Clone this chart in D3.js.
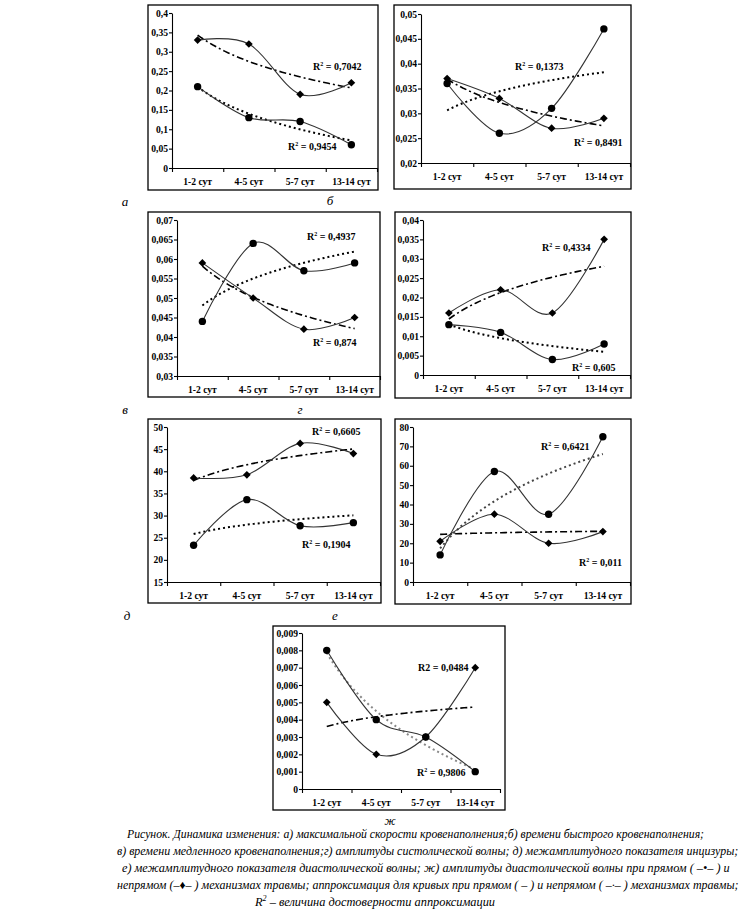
<!DOCTYPE html>
<html><head><meta charset="utf-8">
<script src="https://cdn.jsdelivr.net/npm/d3@7"></script>
<style>body{margin:0;background:#fff}</style>
</head><body>
<svg id="c" width="746" height="912" xmlns="http://www.w3.org/2000/svg"></svg>
<script>
// ---------------- DATA ----------------
const categories = ["1-2 сут", "4-5 сут", "5-7 сут", "13-14 сут"];

// а) максимальная скорость кровенаполнения
const directA   = [0.21, 0.13, 0.12, 0.06];
const indirectA = [0.33, 0.32, 0.19, 0.22];
const ticksA    = [0, 0.05, 0.1, 0.15, 0.2, 0.25, 0.3, 0.35, 0.4];
const r2A       = ["0,9454", "0,7042"];

// б) время быстрого кровенаполнения
const directB   = [0.036, 0.026, 0.031, 0.047];
const indirectB = [0.037, 0.033, 0.027, 0.029];
const ticksB    = [0.02, 0.025, 0.03, 0.035, 0.04, 0.045, 0.05];
const r2B       = ["0,1373", "0,8491"];

// в) время медленного кровенаполнения
const directV   = [0.044, 0.064, 0.057, 0.059];
const indirectV = [0.059, 0.050, 0.042, 0.045];
const ticksV    = [0.03, 0.035, 0.04, 0.045, 0.05, 0.055, 0.06, 0.065, 0.07];
const r2V       = ["0,4937", "0,874"];

// г) амплитуда систолической волны
const directG   = [0.013, 0.011, 0.004, 0.008];
const indirectG = [0.016, 0.022, 0.016, 0.035];
const ticksG    = [0, 0.005, 0.01, 0.015, 0.02, 0.025, 0.03, 0.035, 0.04];
const r2G       = ["0,605", "0,4334"];

// д) межамплитудный показатель инцизуры
const directD   = [23.3, 33.6, 27.7, 28.4];
const indirectD = [38.5, 39.2, 46.3, 44.0];
const ticksD    = [15, 20, 25, 30, 35, 40, 45, 50];
const r2D       = ["0,1904", "0,6605"];

// е) межамплитудный показатель диастолической волны
const directE   = [14, 57, 35, 75];
const indirectE = [21, 35, 20, 26];
const ticksE    = [0, 10, 20, 30, 40, 50, 60, 70, 80];
const r2E       = ["0,6421", "0,011"];

// ж) амплитуда диастолической волны
const directZh   = [0.008, 0.004, 0.003, 0.001];
const indirectZh = [0.005, 0.002, 0.003, 0.007];
const ticksZh    = [0, 0.001, 0.002, 0.003, 0.004, 0.005, 0.006, 0.007, 0.008, 0.009];
const r2Zh       = ["0,9806", "0,0484"];

const panelLetters = ["а", "б", "в", "г", "д", "е", "ж"];

const captionLines = [
  "Рисунок. Динамика изменения: а) максимальной скорости кровенаполнения;б) времени быстрого кровенаполнения;",
  "в) времени медленного кровенаполнения;г) амплитуды систолической волны; д) межамплитудного показателя инцизуры;",
  "е) межамплитудного показателя диастолической волны; ж) амплитуды диастолической волны  при прямом ( –•– ) и",
  "непрямом (–♦– ) механизмах травмы; аппроксимация для кривых при прямом ( – ) и непрямом ( –·– ) механизмах травмы;",
  "R² – величина достоверности аппроксимации"
];

// ---------------- DRAWING ----------------
const svg = d3.select("#c");
const FONT = "'Liberation Serif','Times New Roman',serif";
const fmt = d => String(d).replace(".", ",");

// logarithmic least-squares trend y = a + b ln(x), x = 1..n
function logFit(vals) {
  const xs = vals.map((v, i) => Math.log(i + 1));
  const mx = d3.mean(xs), my = d3.mean(vals);
  const b = d3.sum(xs, (x, i) => (x - mx) * (vals[i] - my)) / d3.sum(xs, x => (x - mx) * (x - mx));
  return { a: my - b * mx, b };
}

function panel(p) {
  const g = svg.append("g");
  g.append("rect").attr("x", p.frame[0]).attr("y", p.frame[1])
    .attr("width", p.frame[2] - p.frame[0]).attr("height", p.frame[3] - p.frame[1])
    .attr("fill", "none").attr("stroke", "#000").attr("stroke-width", 1.3);

  const x = d3.scaleBand().domain(categories).range([p.ax, p.ar]);
  const y = d3.scaleLinear().domain([p.ticks[0], p.ticks[p.ticks.length - 1]]).range([p.yb, p.yt]);
  const cx = c => x(c) + x.bandwidth() / 2;

  g.append("g").attr("transform", `translate(${p.ax},0)`)
    .call(d3.axisLeft(y).tickValues(p.ticks).tickSize(3).tickSizeOuter(0).tickPadding(1).tickFormat(fmt));
  g.append("g").attr("transform", `translate(0,${p.yb})`)
    .call(d3.axisBottom(x).tickSize(0).tickPadding(10).tickSizeOuter(0));
  const xb = d3.scaleLinear().domain([0, categories.length]).range(x.range());
  g.append("g").attr("transform", `translate(0,${p.yb})`)
    .call(d3.axisBottom(xb).tickValues(d3.range(categories.length + 1)).tickSize(4).tickFormat(""))
    .select(".domain").remove();
  g.selectAll(".domain, .tick line").attr("stroke", "#000").attr("stroke-width", 1.1);
  g.selectAll(".tick text").attr("font-family", FONT).attr("font-weight", "bold")
    .attr("font-size", "9.6px").attr("fill", "#000");

  const xt = d3.scaleLinear().domain([1, categories.length]).range([cx(categories[0]), cx(categories[categories.length - 1])]);
  const samples = d3.range(0, 41).map(i => 1 + i * (categories.length - 1) / 40);
  function trend(vals, dash, color, width) {
    const f = logFit(vals);
    g.append("path")
      .attr("d", d3.line().x(t => xt(t)).y(t => y(f.a + f.b * Math.log(t)))(samples))
      .attr("fill", "none").attr("stroke", color).attr("stroke-width", width)
      .attr("stroke-dasharray", dash);
  }
  trend(p.direct, "2,3", p.dColor || "#000", 2);
  trend(p.indirect, "7,3,2,3", "#000", 1.6);

  const line = d3.line().x((d, i) => cx(categories[i])).y(d => y(d)).curve(d3.curveCatmullRom.alpha(0));
  [p.direct, p.indirect].forEach(s => g.append("path").attr("d", line(s))
    .attr("fill", "none").attr("stroke", "#333").attr("stroke-width", 1.1));

  g.selectAll(".dm").data(p.indirect).enter().append("path")
    .attr("d", d3.symbol(d3.symbolSquare, 30)())
    .attr("transform", (d, i) => `translate(${cx(categories[i])},${y(d)}) rotate(45)`)
    .attr("fill", "#000");
  g.selectAll(".cm").data(p.direct).enter().append("circle")
    .attr("cx", (d, i) => cx(categories[i])).attr("cy", d => y(d)).attr("r", 3.7)
    .attr("fill", "#000");

  p.labels.forEach(l => {
    const t = g.append("text").attr("x", l.x).attr("y", l.y)
      .attr("font-family", FONT).attr("font-weight", "bold").attr("font-size", "10px");
    if (l.sup) {
      t.append("tspan").text("R");
      t.append("tspan").attr("font-size", "6px").attr("dy", -4).text("2");
      t.append("tspan").attr("dy", 4).text(" = " + l.v);
    } else {
      t.text("R2 = " + l.v);
    }
  });
}

panel({ frame: [148, 5, 378, 190], ax: 172, ar: 377, yt: 13, yb: 168, ticks: ticksA,
  direct: directA, indirect: indirectA,
  labels: [{ x: 288, y: 150, v: r2A[0], sup: true }, { x: 313, y: 70, v: r2A[1], sup: true }] });
panel({ frame: [394, 5, 631, 189], ax: 421, ar: 630, yt: 14, yb: 163, ticks: ticksB,
  direct: directB, indirect: indirectB,
  labels: [{ x: 515, y: 70, v: r2B[0], sup: true }, { x: 574, y: 146, v: r2B[1], sup: true }] });
panel({ frame: [148, 212, 380, 397], ax: 177, ar: 380, yt: 220, yb: 376, ticks: ticksV,
  direct: directV, indirect: indirectV,
  labels: [{ x: 307, y: 240, v: r2V[0], sup: true }, { x: 313, y: 346, v: r2V[1], sup: true }] });
panel({ frame: [395, 212, 631, 398], ax: 423, ar: 630, yt: 220, yb: 375, ticks: ticksG,
  direct: directG, indirect: indirectG,
  labels: [{ x: 572, y: 371, v: r2G[0], sup: true }, { x: 542, y: 251, v: r2G[1], sup: true }] });
panel({ frame: [148, 419, 381, 603], ax: 167, ar: 380, yt: 427, yb: 582, ticks: ticksD,
  direct: directD, indirect: indirectD,
  labels: [{ x: 302, y: 548, v: r2D[0], sup: true }, { x: 312, y: 435, v: r2D[1], sup: true }] });
panel({ frame: [395, 419, 631, 604], ax: 413, ar: 630, yt: 427, yb: 582, ticks: ticksE,
  direct: directE, indirect: indirectE, dColor: "#444",
  labels: [{ x: 541, y: 450, v: r2E[0], sup: true }, { x: 579, y: 566, v: r2E[1], sup: true }] });
panel({ frame: [273, 626, 505, 810], ax: 302, ar: 500, yt: 633, yb: 789, ticks: ticksZh,
  direct: directZh, indirect: indirectZh, dColor: "#888",
  labels: [{ x: 417, y: 776, v: r2Zh[0], sup: true }, { x: 418, y: 671, v: r2Zh[1], sup: false }] });

// panel letters
const letterPos = [[125, 206], [330, 205], [125, 414], [300, 414], [127, 620], [335, 620], [390, 825]];
svg.selectAll(".lt").data(panelLetters).enter().append("text")
  .attr("x", (d, i) => letterPos[i][0]).attr("y", (d, i) => letterPos[i][1])
  .attr("text-anchor", "middle").attr("font-family", FONT).attr("font-style", "italic")
  .attr("font-size", (d, i) => i === 6 ? "12px" : "13px").text(d => d);

// caption: font size fitted so each line's natural width matches the reference
const capPos = [[127, 838, 578], [117, 855, 622], [122, 872, 608], [117, 889, 622], [255, 906, 240]];
captionLines.forEach((s, i) => {
  const t = svg.append("text").attr("x", capPos[i][0]).attr("y", capPos[i][1])
    .attr("font-family", FONT).attr("font-style", "italic").attr("font-size", "13px");
  if (s.startsWith("R²")) {
    t.append("tspan").text("R");
    t.append("tspan").attr("class", "sup").attr("font-size", "8px").attr("dy", -5).text("2");
    t.append("tspan").attr("dy", 5).text(s.slice(2));
  } else t.text(s);
  const w = t.node().getComputedTextLength();
  const fs = Math.min(13.5, 13 * capPos[i][2] / w);
  t.attr("font-size", fs + "px");
});
</script>
</body></html>
